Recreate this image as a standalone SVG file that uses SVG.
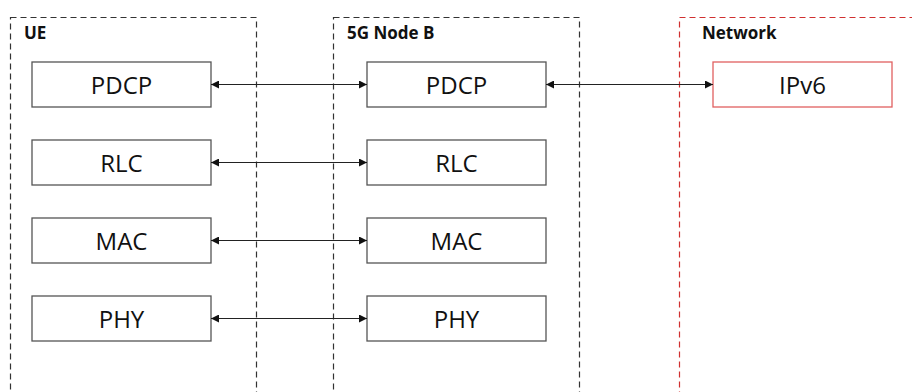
<svg xmlns="http://www.w3.org/2000/svg" width="912" height="392" viewBox="0 0 912 392">
<style>
.grp{fill:none;stroke:#333;stroke-width:1.2;stroke-dasharray:6 4}
.grp.red{stroke:#d03030}
.ttl{font-family:"Open Sans","Liberation Sans",sans-serif;font-weight:bold;font-size:17px;fill:#111}
.box{fill:#fff;stroke:#555;stroke-width:1.3}
.box.red{stroke:#e06060}
.lbl{font-family:"Open Sans","Liberation Sans",sans-serif;font-size:24px;fill:#111;text-anchor:middle;dominant-baseline:central}
.cn{stroke:#222;stroke-width:1.2;fill:none;marker-start:url(#ah);marker-end:url(#ah)}
</style>
<defs>
<marker id="ah" viewBox="0 0 10 10" refX="10" refY="5" markerWidth="9" markerHeight="8" markerUnits="userSpaceOnUse" orient="auto-start-reverse">
<path d="M0,0 L10,5 L0,10 z" fill="#111"/>
</marker>
</defs>
<rect width="912" height="392" fill="#fff"/>
<g id="ue">
<rect class="grp" x="10.5" y="17.5" width="246" height="400"/>
<text class="ttl" x="24" y="39">UE</text>
</g>
<g id="gnb">
<rect class="grp" x="333.5" y="17.5" width="246" height="400"/>
<text class="ttl" x="347" y="39">5G Node B</text>
</g>
<g id="network">
<rect class="grp red" x="679.5" y="17.5" width="260" height="400"/>
<text class="ttl" x="702" y="39">Network</text>
</g>
<g id="ue-pdcp"><rect class="box" x="32" y="62" width="179" height="45"/><text class="lbl" x="121.5" y="84">PDCP</text></g>
<g id="ue-rlc"><rect class="box" x="32" y="140" width="179" height="45"/><text class="lbl" x="121.5" y="162">RLC</text></g>
<g id="ue-mac"><rect class="box" x="32" y="218" width="179" height="45"/><text class="lbl" x="121.5" y="240">MAC</text></g>
<g id="ue-phy"><rect class="box" x="32" y="296" width="179" height="45"/><text class="lbl" x="121.5" y="318">PHY</text></g>
<g id="gnb-pdcp"><rect class="box" x="367" y="62" width="179" height="45"/><text class="lbl" x="456.5" y="84">PDCP</text></g>
<g id="gnb-rlc"><rect class="box" x="367" y="140" width="179" height="45"/><text class="lbl" x="456.5" y="162">RLC</text></g>
<g id="gnb-mac"><rect class="box" x="367" y="218" width="179" height="45"/><text class="lbl" x="456.5" y="240">MAC</text></g>
<g id="gnb-phy"><rect class="box" x="367" y="296" width="179" height="45"/><text class="lbl" x="456.5" y="318">PHY</text></g>
<g id="ipv6"><rect class="box red" x="713" y="62" width="179" height="45"/><text class="lbl" x="802.5" y="84">IPv6</text></g>
<g id="connectors">
<line class="cn" x1="211" y1="84.5" x2="367" y2="84.5"/>
<line class="cn" x1="546" y1="84.5" x2="713" y2="84.5"/>
<line class="cn" x1="211" y1="162.5" x2="367" y2="162.5"/>
<line class="cn" x1="211" y1="240.5" x2="367" y2="240.5"/>
<line class="cn" x1="211" y1="318.5" x2="367" y2="318.5"/>
</g>
</svg>
